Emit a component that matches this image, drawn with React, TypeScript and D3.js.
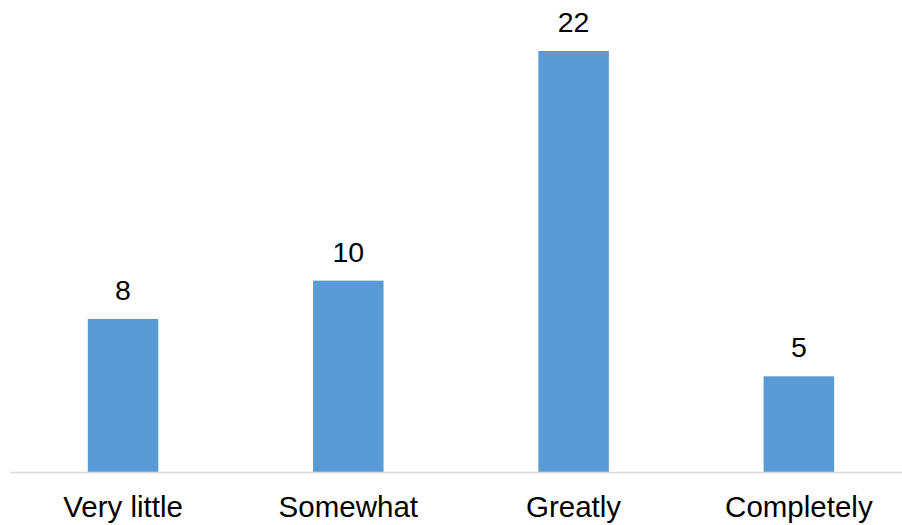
import React from "react";
import * as d3 from "d3";

const categories: string[] = ["Very little", "Somewhat", "Greatly", "Completely"];
const counts: number[] = [8, 10, 22, 5];

const WIDTH = 902;
const HEIGHT = 525;
const FONT = "'Liberation Sans', Arial, Helvetica, sans-serif";
const BAR_COLOR = "#5B9BD5";

export default function App() {
  const x = d3
    .scaleBand<string>()
    .domain(categories)
    .range([10.4, 911.5])
    .paddingInner(0.687)
    .paddingOuter(0.3435);

  const y = d3.scaleLinear().domain([0, 22]).range([472, 51]);

  return (
    <svg
      width={WIDTH}
      height={HEIGHT}
      style={{ position: "absolute", left: 0, top: 0, display: "block", background: "#fff" }}
      fontFamily={FONT}
    >
      {categories.map((c, i) => (
        <g key={c}>
          <rect
            x={x(c)}
            y={y(counts[i])}
            width={x.bandwidth()}
            height={y(0) - y(counts[i])}
            fill={BAR_COLOR}
          />
          <text
            x={(x(c) as number) + x.bandwidth() / 2}
            y={y(counts[i]) - 19}
            textAnchor="middle"
            fontSize={28.5}
            fill="#000"
          >
            {counts[i]}
          </text>
          <text
            x={(x(c) as number) + x.bandwidth() / 2}
            y={517}
            textAnchor="middle"
            fontSize={29.5}
            fill="#000"
          >
            {c}
          </text>
        </g>
      ))}
      <line x1={10.4} x2={WIDTH} y1={472.5} y2={472.5} stroke="#D9D9D9" strokeWidth={1.5} />
    </svg>
  );
}
